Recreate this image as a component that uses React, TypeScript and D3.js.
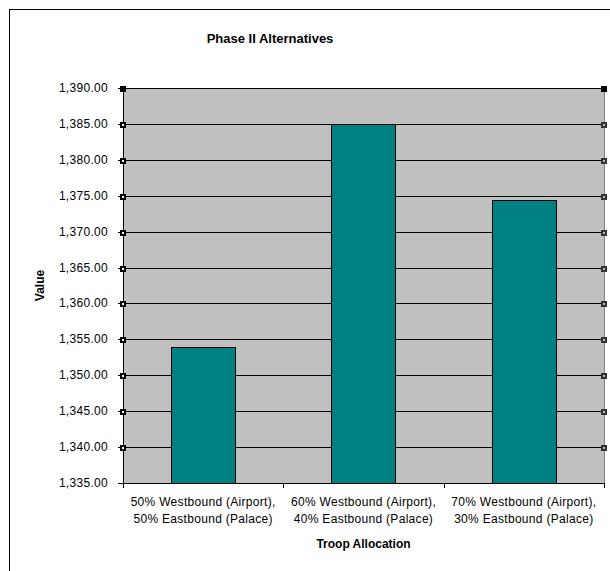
import React from "react";
import * as d3 from "d3";

const categories: string[][] = [
  ["50% Westbound (Airport),", "50% Eastbound (Palace)"],
  ["60% Westbound (Airport),", "40% Eastbound (Palace)"],
  ["70% Westbound (Airport),", "30% Eastbound (Palace)"],
];
const values: number[] = [1353.9, 1385.0, 1374.4];
const yTicks: number[] = [1335, 1340, 1345, 1350, 1355, 1360, 1365, 1370, 1375, 1380, 1385, 1390];
const title = "Phase II Alternatives";
const xTitle = "Troop Allocation";
const yTitle = "Value";

export default function App() {
  const W = 610, H = 571;
  const left = 123, right = 604, top = 88, bottom = 483;
  const font = "'Liberation Sans', Arial, sans-serif";
  const y = d3.scaleLinear().domain([1335, 1390]).range([bottom, top]);
  const keys = categories.map((_, i) => String(i));
  const xb = d3.scaleBand<string>().domain(keys).range([left, right]).paddingInner(0.6).paddingOuter(0.3);
  const xc = d3.scaleBand<string>().domain(keys).range([left, right]).padding(0);
  const fmt = d3.format(",.2f");
  const step = xc.step();

  return (
    <svg width={W} height={H} style={{ position: "absolute", left: 0, top: 0, background: "#fff" }}
      shapeRendering="crispEdges">
      <rect x={9.5} y={9.5} width={800} height={800} fill="#fff" stroke="#000" />
      <text x={270} y={43} textAnchor="middle" fontFamily={font} fontWeight="bold" fontSize={13}
        shapeRendering="auto">{title}</text>
      {/* plot area */}
      <rect x={left} y={top} width={right - left} height={bottom - top} fill="#C0C0C0" stroke="#808080" />
      {/* gridlines */}
      {yTicks.filter((t) => t !== 1335).map((t) => (
        <line key={"g" + t} x1={left} x2={right} y1={Math.round(y(t)) + 0.5} y2={Math.round(y(t)) + 0.5} stroke="#000" />
      ))}
      {/* bars */}
      {values.map((v, i) => (
        <rect key={"b" + i} x={Math.round(xb(String(i))!) + 0.5} y={Math.round(y(v)) + 0.5}
          width={Math.round(xb.bandwidth())} height={Math.round(bottom - y(v))}
          fill="#008080" stroke="#000" />
      ))}
      {/* axes */}
      <line x1={left + 0.5} x2={left + 0.5} y1={top} y2={bottom} stroke="#000" />
      <line x1={left} x2={right + 1} y1={bottom + 0.5} y2={bottom + 0.5} stroke="#000" />
      <line x1={right + 0.5} x2={right + 0.5} y1={top} y2={bottom} stroke="#808080" />
      {yTicks.map((t) => (
        <line key={"t" + t} x1={left - 5} x2={left} y1={Math.round(y(t)) + 0.5} y2={Math.round(y(t)) + 0.5} stroke="#000" />
      ))}
      {keys.concat(["3"]).map((k, i) => (
        <line key={"xt" + i} x1={Math.round(left + i * step) + 0.5} x2={Math.round(left + i * step) + 0.5}
          y1={bottom} y2={bottom + 5} stroke="#000" />
      ))}
      {/* gridline handles */}
      {yTicks.filter((t) => t !== 1335).map((t) => {
        const yy = Math.round(y(t));
        const solid = t === 1390;
        return (
          <g key={"h" + t}>
            <rect x={left - 3} y={yy - 2} width={6} height={6} fill="#000" />
            {!solid && <rect x={left - 1} y={yy} width={2} height={2} fill="#fff" />}
            <rect x={right - 3} y={yy - 2} width={6} height={6} fill={solid ? "#000" : "#333"} />
            {!solid && <rect x={right - 1} y={yy} width={2} height={2} fill="#bbb" />}
          </g>
        );
      })}
      {/* y tick labels */}
      {yTicks.map((t) => (
        <text key={"yl" + t} x={108} y={y(t) + 4} textAnchor="end" fontFamily={font} fontSize={12}
          letterSpacing={0.3} shapeRendering="auto">{fmt(t)}</text>
      ))}
      {/* x category labels */}
      {categories.map((lines, i) => (
        <text key={"xl" + i} x={xb(String(i))! + xb.bandwidth() / 2} y={506} textAnchor="middle"
          fontFamily={font} fontSize={12} letterSpacing={0.3} shapeRendering="auto">
          {lines.map((l, j) => (
            <tspan key={j} x={xb(String(i))! + xb.bandwidth() / 2} dy={j === 0 ? 0 : 17}>{l}</tspan>
          ))}
        </text>
      ))}
      <text x={(left + right) / 2} y={548} textAnchor="middle" fontFamily={font} fontWeight="bold"
        fontSize={12} shapeRendering="auto">{xTitle}</text>
      <text transform={`translate(44,${(top + bottom) / 2}) rotate(-90)`} textAnchor="middle"
        fontFamily={font} fontWeight="bold" fontSize={12} shapeRendering="auto">{yTitle}</text>
    </svg>
  );
}
